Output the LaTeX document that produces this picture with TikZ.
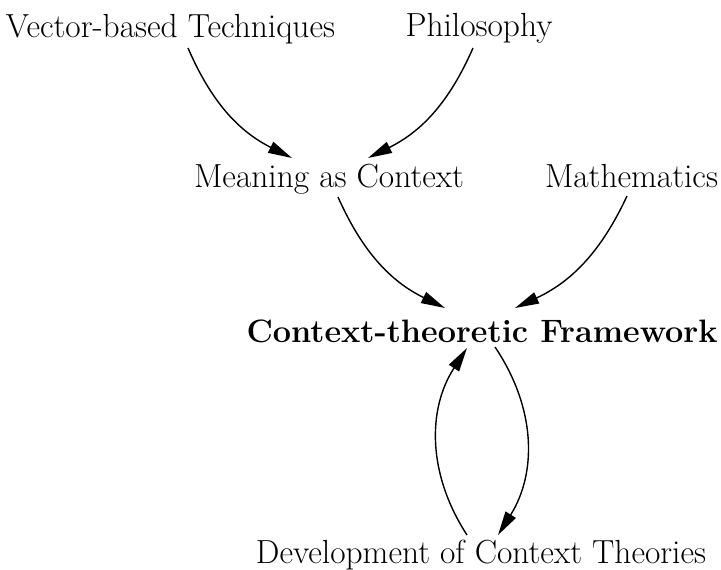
\documentclass[tikz,border=0pt]{standalone}
\usetikzlibrary{arrows.meta,calc}
\begin{document}
\begin{tikzpicture}[x=0.5pt,y=-0.5pt,
  lbl/.style={inner sep=0pt,anchor=base,font=\fontsize{16.7}{20}\selectfont},
  arr/.style={line width=0.7pt,-{Triangle[length=12pt,width=6pt]}}]
\useasboundingbox (0,0) rectangle (721,569);
\node[lbl] (v) at (170.5,37) {Vector-based Techniques};
\node[lbl] (p) at (479,36) {Philosophy};
\node[lbl] (m) at (329,187) {Meaning as Context};
\node[lbl] (ma) at (631.5,187) {Mathematics};
\node[lbl,font=\fontsize{16.2}{20}\selectfont\bfseries] (f) at (482,342) {Context-theoretic Framework};
\node[lbl] (d) at (481,563) {Development of Context Theories};
\draw[arr] ($(v.base)+(17.5,11)$) to[bend right=20] ($(m.base)+(-37,-29)$);
\draw[arr] ($(p.base)+(-6,12)$) to[bend left=20] ($(m.base)+(39,-29)$);
\draw[arr] ($(m.base)+(9,10)$) to[bend right=20] ($(f.base)+(-37,-34)$);
\draw[arr] ($(ma.base)+(-4.5,9)$) to[bend left=20] ($(f.base)+(33,-34)$);
\draw[arr] ($(f.base)+(13,5)$) to[bend left=33] ($(d.base)+(17,-28)$);
\draw[arr] ($(d.base)+(-14,-28)$) to[bend left=33] ($(f.base)+(-15,6)$);
\end{tikzpicture}
\end{document}
